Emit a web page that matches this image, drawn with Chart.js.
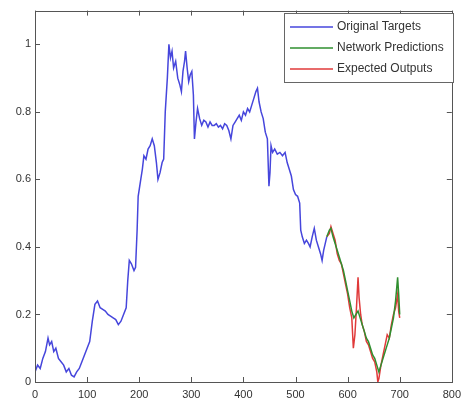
<!DOCTYPE html>
<html>
<head>
<meta charset="utf-8">
<script src="https://cdn.jsdelivr.net/npm/chart.js@4/dist/chart.umd.min.js"></script>
<style>
  html, body { margin: 0; padding: 0; background: #fff; }
  canvas { display: block; }
</style>
</head>
<body>
<canvas id="c" width="467" height="404"></canvas>
<script>
// Series labels
const seriesNames = ['Original Targets', 'Network Predictions', 'Expected Outputs'];

// Original target series (sample index, value)
const targetX = [0,5,10,15,20,25,28,32,36,40,45,50,55,60,65,70,75,80,85,90,95,100,105,110,115,120,125,130,135,140,145,150,155,160,165,170,175,178,181,185,190,193,196,198,200,203,206,209,213,217,221,225,229,233,236,240,244,247,250,254,257,260,263,266,270,274,278,281,284,287,289,292,295,298,301,304,306,309,312,316,320,324,328,332,336,340,344,348,352,356,360,364,368,372,376,380,384,388,392,396,400,404,408,412,416,420,424,427,430,434,438,442,446,449,451,453,456,460,465,470,475,480,484,488,492,496,500,504,508,510,513,517,521,525,528,532,536,540,544,548,551,554,557,560];
const targetY = [0.03,0.05,0.04,0.07,0.09,0.13,0.11,0.12,0.09,0.10,0.07,0.06,0.05,0.03,0.04,0.02,0.015,0.03,0.04,0.06,0.08,0.10,0.12,0.18,0.23,0.24,0.22,0.215,0.21,0.20,0.195,0.19,0.185,0.17,0.18,0.20,0.22,0.30,0.36,0.35,0.33,0.34,0.45,0.55,0.57,0.60,0.63,0.67,0.66,0.69,0.70,0.72,0.70,0.65,0.60,0.62,0.65,0.66,0.80,0.90,1.00,0.96,0.98,0.93,0.95,0.90,0.88,0.86,0.92,0.95,0.98,0.93,0.89,0.91,0.92,0.85,0.72,0.77,0.81,0.78,0.76,0.775,0.77,0.755,0.77,0.76,0.76,0.765,0.755,0.76,0.75,0.765,0.76,0.745,0.72,0.76,0.77,0.78,0.79,0.775,0.80,0.79,0.81,0.80,0.82,0.84,0.86,0.87,0.83,0.80,0.78,0.74,0.72,0.58,0.62,0.70,0.68,0.69,0.675,0.68,0.67,0.68,0.65,0.63,0.61,0.57,0.555,0.55,0.53,0.45,0.43,0.41,0.42,0.41,0.40,0.43,0.455,0.42,0.40,0.38,0.36,0.39,0.41,0.43];

// Network predictions over the test window
const predX = [560,565,568,572,576,580,584,588,592,596,600,604,608,612,616,620,624,628,632,636,640,644,648,652,656,660,664,668,672,676,680,684,688,692,696,698,700];
const predY = [0.43,0.45,0.455,0.43,0.41,0.39,0.37,0.35,0.33,0.30,0.27,0.24,0.21,0.19,0.20,0.21,0.19,0.17,0.15,0.13,0.12,0.10,0.08,0.07,0.05,0.03,0.05,0.07,0.09,0.11,0.13,0.16,0.19,0.24,0.31,0.26,0.20];

// Expected outputs over the test window
const expX = [560,565,568,572,576,580,584,588,592,596,600,604,608,611,614,617,620,622,625,628,632,636,640,644,648,652,656,658,660,664,668,672,676,680,684,688,692,696,698,700];
const expY = [0.43,0.44,0.46,0.44,0.42,0.38,0.36,0.35,0.32,0.29,0.26,0.22,0.19,0.10,0.14,0.22,0.31,0.25,0.20,0.17,0.15,0.12,0.11,0.09,0.07,0.06,0.03,0.00,0.01,0.05,0.08,0.11,0.14,0.13,0.17,0.20,0.22,0.26,0.21,0.19];

// Axis ticks
const xTicks = [0,100,200,300,400,500,600,700,800];
const yTicks = [0,0.2,0.4,0.6,0.8,1];

const colors = ['#4646dc', '#2f8f2f', '#e03a3a'];

function pairs(xs, ys) { return xs.map((x, i) => ({ x: x, y: ys[i] })); }

const FONT = '"Liberation Sans", Arial, sans-serif';
const AXIS = '#555';

// Box around the axes with inward tick marks on all four sides
const boxTicks = {
  id: 'boxTicks',
  afterDraw(chart) {
    const { ctx, chartArea: a, scales } = chart;
    ctx.save();
    ctx.strokeStyle = AXIS;
    ctx.lineWidth = 1;
    ctx.strokeRect(Math.round(a.left) + 0.5, Math.round(a.top) + 0.5,
                   Math.round(a.right - a.left), Math.round(a.bottom - a.top));
    const L = 5;
    ctx.beginPath();
    xTicks.forEach(v => {
      const px = Math.round(scales.x.getPixelForValue(v)) + 0.5;
      ctx.moveTo(px, a.bottom); ctx.lineTo(px, a.bottom - L);
      ctx.moveTo(px, a.top); ctx.lineTo(px, a.top + L);
    });
    yTicks.forEach(v => {
      const py = Math.round(scales.y.getPixelForValue(v)) + 0.5;
      ctx.moveTo(a.left, py); ctx.lineTo(a.left + L, py);
      ctx.moveTo(a.right, py); ctx.lineTo(a.right - L, py);
    });
    ctx.stroke();

    // Legend box in the upper right corner
    const bx = 284.5, by = 13.5, bw = 169, bh = 69;
    ctx.fillStyle = '#fff';
    ctx.fillRect(bx, by, bw, bh);
    ctx.strokeStyle = '#666';
    ctx.strokeRect(bx, by, bw, bh);
    ctx.font = '12px ' + FONT;
    ctx.textBaseline = 'middle';
    chart.data.datasets.forEach((ds, i) => {
      const y = 27 + i * 21;
      ctx.strokeStyle = ds.borderColor;
      ctx.lineWidth = 1.5;
      ctx.beginPath();
      ctx.moveTo(290, y); ctx.lineTo(333, y);
      ctx.stroke();
      ctx.fillStyle = '#333';
      ctx.fillText(ds.label, 337, y);
    });
    ctx.restore();
  }
};

new Chart(document.getElementById('c'), {
  type: 'line',
  data: {
    datasets: [
      { label: seriesNames[0], data: pairs(targetX, targetY), borderColor: colors[0] },
      { label: seriesNames[1], data: pairs(predX, predY), borderColor: colors[1] },
      { label: seriesNames[2], data: pairs(expX, expY), borderColor: colors[2] }
    ]
  },
  options: {
    responsive: false,
    animation: false,
    elements: {
      point: { radius: 0 },
      line: { borderWidth: 1.5, tension: 0 }
    },
    layout: { padding: { top: 8, right: 12, left: 0, bottom: 0 } },
    plugins: { legend: { display: false }, tooltip: { enabled: false } },
    scales: {
      x: {
        type: 'linear', min: 0, max: 800,
        afterBuildTicks(s) { s.ticks = xTicks.map(v => ({ value: v })); },
        afterFit(s) { s.height = 22; },
        grid: { display: false, drawTicks: false },
        border: { display: false },
        ticks: { padding: 6, color: '#333', font: { size: 11, family: FONT }, maxRotation: 0,
                 callback: v => String(v) }
      },
      y: {
        type: 'linear', min: 0, max: 1.1,
        afterBuildTicks(s) { s.ticks = yTicks.map(v => ({ value: v })); },
        afterFit(s) { s.width = 35; },
        grid: { display: false, drawTicks: false },
        border: { display: false },
        ticks: { padding: 4, color: '#333', font: { size: 11, family: FONT },
                 callback: v => String(Math.round(v * 10) / 10) }
      }
    }
  },
  plugins: [boxTicks]
});
</script>
</body>
</html>
